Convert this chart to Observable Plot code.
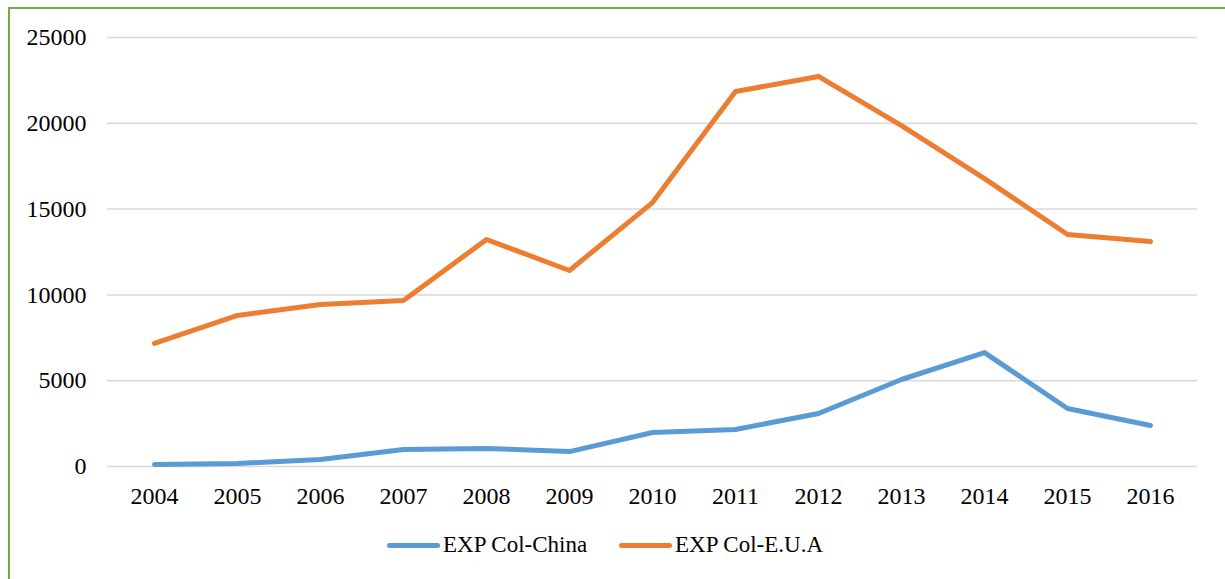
<!DOCTYPE html>
<html>
<head>
<meta charset="utf-8">
<script src="https://cdn.jsdelivr.net/npm/d3@7"></script>
<script src="https://cdn.jsdelivr.net/npm/@observablehq/plot@0.6"></script>
<style>
  html, body { margin: 0; padding: 0; background: #fff; overflow: hidden; width: 1225px; height: 579px; }
  #frame { position: absolute; left: 8px; top: 7px; width: 1300px; height: 700px; z-index: 5;
           border-left: 2px solid #70AD47; border-top: 2px solid #70AD47; box-sizing: border-box; pointer-events: none; }
  #chart { position: absolute; left: 0; top: 0; }
  #chart svg { background: transparent !important; }
  #chart svg text { font-family: "Liberation Serif", "Times New Roman", serif !important; font-size: 24px !important; fill: #000; }
  #legend { position: absolute; left: 0; top: 532px; width: 1225px; font-family: "Liberation Serif", "Times New Roman", serif;
            font-size: 23px; color: #000; }
  .item { position: absolute; display: flex; align-items: center; }
  .swatch { width: 53px; height: 5px; border-radius: 3px; margin-right: 3px; }
</style>
</head>
<body>
<div id="frame"></div>
<div id="chart"></div>
<div id="legend"></div>
<script>
const years = ["2004","2005","2006","2007","2008","2009","2010","2011","2012","2013","2014","2015","2016"];
const china = [120, 175, 410, 990, 1050, 870, 1980, 2160, 3090, 5070, 6640, 3380, 2390];
const eua = [7170, 8800, 9440, 9670, 13230, 11420, 15380, 21850, 22730, 19870, 16780, 13520, 13110];
const seriesNames = ["EXP Col-China", "EXP Col-E.U.A"];
const seriesColors = ["#5B9BD5", "#ED7D31"];
const yTicks = [0, 5000, 10000, 15000, 20000, 25000];

const data = [];
years.forEach((y, i) => {
  data.push({year: y, value: china[i], series: seriesNames[0]});
  data.push({year: y, value: eua[i], series: seriesNames[1]});
});

const chart = Plot.plot({
  width: 1225,
  height: 520,
  marginLeft: 107,
  marginRight: 28,
  marginTop: 37,
  marginBottom: 54,
  style: "font-family: 'Liberation Serif', serif; font-size: 24px; color: #000; background: transparent;",
  x: { type: "point", domain: years, padding: 0.5, label: null },
  y: { domain: [0, 25000], label: null },
  color: { domain: seriesNames, range: seriesColors },
  marks: [
    Plot.ruleY(yTicks, { stroke: "#D9D9D9", strokeWidth: 1.5 }),
    Plot.axisY({ ticks: yTicks, tickSize: 0, tickPadding: 21, label: null, tickFormat: d => String(d) }),
    Plot.axisX({ tickSize: 0, tickPadding: 20, label: null }),
    Plot.line(data, { x: "year", y: "value", z: "series", stroke: "series", strokeWidth: 5,
                      strokeLinejoin: "round", strokeLinecap: "round" })
  ]
});
document.getElementById("chart").appendChild(chart);

const legend = document.getElementById("legend");
const lefts = [387, 619];
seriesNames.forEach((name, i) => {
  const item = document.createElement("div");
  item.className = "item";
  item.style.left = lefts[i] + "px";
  const sw = document.createElement("div");
  sw.className = "swatch";
  sw.style.background = seriesColors[i];
  const t = document.createElement("span");
  t.textContent = name;
  item.appendChild(sw);
  item.appendChild(t);
  legend.appendChild(item);
});
</script>
</body>
</html>
